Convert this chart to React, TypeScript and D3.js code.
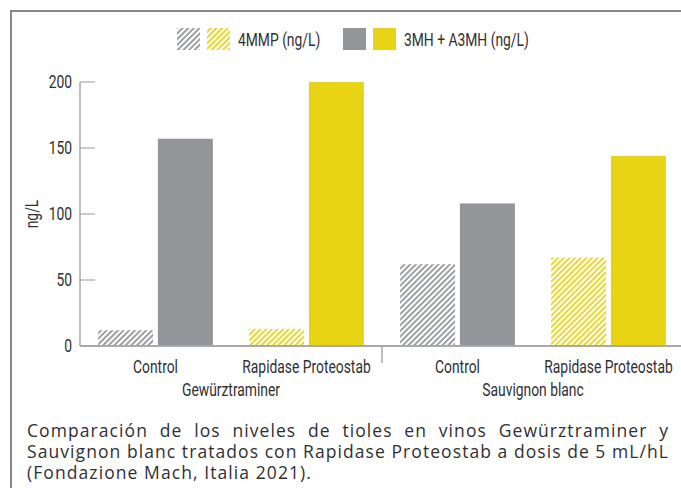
import { useEffect, useRef } from 'react';
import * as d3 from 'd3';

const groups = ['Gewürztraminer', 'Sauvignon blanc'];
const treatments = ['Control', 'Rapidase Proteostab'];
const seriesKeys = ['4MMP', '3MH'];
const seriesLabels = ['4MMP (ng/L)', '3MH + A3MH (ng/L)'];
// one value per group/treatment pair, in order
const values4MMP = [12, 13, 62, 67];
const values3MH = [157, 200, 108, 144];
const yTicks = [0, 50, 100, 150, 200];
const caption = [
  'Comparación de los niveles de tioles en vinos Gewürztraminer y',
  'Sauvignon blanc tratados con Rapidase Proteostab a dosis de 5 mL/hL',
  '(Fondazione Mach, Italia 2021).',
];

const GRAY = '#939598';
const YELLOW = '#e8d415';
const TEXT = '#2f3033';
const AXIS = '#a7a9ac';
const condensed = 'Roboto, sans-serif';
const SQUEEZE = 0.77;

// condensed label: Roboto squeezed horizontally
function CText({ x, y, anchor = 'start', dy, children }: { x: number; y: number; anchor?: string; dy?: string; children: any }) {
  return (
    <text transform={`translate(${x},${y}) scale(${SQUEEZE},1)`} textAnchor={anchor} dy={dy}>{children}</text>
  );
}

export default function App() {
  const captionRef = useRef<SVGGElement>(null);
  const width = 681;
  const height = 488;
  const margin = { left: 80, right: -3, top: 82, bottom: 142 };

  useEffect(() => {
    if (!captionRef.current) return;
    const lines = captionRef.current.querySelectorAll('text');
    const target = 642;
    // widen letters so the second line fills the block, then justify line 1
    const l2 = lines[1] as SVGTextElement;
    l2.setAttribute('letter-spacing', '0');
    const nat2 = l2.getComputedTextLength();
    const ls = (target - nat2) / ((l2.textContent || '').length - 1);
    lines.forEach(el => el.setAttribute('letter-spacing', String(ls)));
    [0, 1].forEach(i => {
      const el = lines[i] as SVGTextElement;
      el.setAttribute('word-spacing', '0');
      const natural = el.getComputedTextLength();
      const spaces = (el.textContent || '').split(' ').length - 1;
      el.setAttribute('word-spacing', String((target - natural) / spaces));
    });
  }, []);

  const cats = groups.flatMap(g => treatments.map(t => `${g}|${t}`));

  const x = d3.scaleBand<string>()
    .domain(cats)
    .range([margin.left, width - margin.right])
    .paddingInner(0.24)
    .paddingOuter(0.12);

  const xSub = d3.scaleBand<string>()
    .domain(seriesKeys)
    .range([0, x.bandwidth()])
    .paddingInner(0.08);

  const y = d3.scaleLinear()
    .domain([0, 200])
    .range([height - margin.bottom, margin.top]);

  const y0 = y(0);

  const bars = cats.flatMap((c, i) => [
    { cat: c, key: '4MMP', value: values4MMP[i], fill: i % 2 === 0 ? 'url(#hatchGray)' : 'url(#hatchYellow)' },
    { cat: c, key: '3MH', value: values3MH[i], fill: i % 2 === 0 ? GRAY : YELLOW },
  ]);

  // separator between the two wine groups
  const sepX = (x(cats[1])! + x.bandwidth() + x(cats[2])!) / 2;

  return (
    <svg width={width} height={height} style={{ position: 'absolute', left: 0, top: 0, background: '#fff' }}>
      <defs>
        <pattern id="hatchGray" width="4" height="4" patternUnits="userSpaceOnUse" patternTransform="rotate(45)">
          <rect width="4" height="4" fill="#fff" />
          <line x1="1" y1="0" x2="1" y2="4" stroke={GRAY} strokeWidth="1.8" />
        </pattern>
        <pattern id="hatchYellow" width="4" height="4" patternUnits="userSpaceOnUse" patternTransform="rotate(45)">
          <rect width="4" height="4" fill="#fff" />
          <line x1="1" y1="0" x2="1" y2="4" stroke={YELLOW} strokeWidth="1.8" />
        </pattern>
      </defs>

      {/* frame */}
      <path d={`M11,${height} V11 H${width}`} fill="none" stroke="#85888b" strokeWidth={2} />

      {/* legend */}
      <g fontFamily={condensed} fontSize={18} fill={TEXT}>
        <rect x={177} y={28} width={23} height={22} fill="url(#hatchGray)" />
        <rect x={207} y={28} width={23} height={22} fill="url(#hatchYellow)" />
        <CText x={238} y={46}>{seriesLabels[0]}</CText>
        <rect x={343} y={28} width={23} height={22} fill={GRAY} />
        <rect x={373} y={28} width={23} height={22} fill={YELLOW} />
        <CText x={404} y={46}>{seriesLabels[1]}</CText>
      </g>

      {/* bars */}
      {bars.map((b, i) => (
        <rect
          key={i}
          x={x(b.cat)! + xSub(b.key)!}
          y={y(b.value)}
          width={xSub.bandwidth()}
          height={y0 - y(b.value)}
          fill={b.fill}
        />
      ))}

      {/* y axis */}
      <g fontFamily={condensed} fontSize={18} fill={TEXT}>
        <line x1={margin.left} x2={margin.left} y1={y(200)} y2={y0} stroke={AXIS} strokeWidth={1.5} />
        {yTicks.map(t => (
          <g key={t}>
            <line x1={margin.left} x2={margin.left + 15} y1={y(t)} y2={y(t)} stroke={AXIS} strokeWidth={1.2} />
            <CText x={margin.left - 8} y={y(t)} dy="0.35em" anchor="end">{t}</CText>
          </g>
        ))}
        <text transform={`translate(38,${y(100)}) rotate(-90) scale(${SQUEEZE},1)`} textAnchor="middle">ng/L</text>
      </g>

      {/* x axis */}
      <g fontFamily={condensed} fontSize={18} fill={TEXT}>
        <line x1={margin.left} x2={width} y1={y0} y2={y0} stroke={AXIS} strokeWidth={2} />
        <line x1={sepX} x2={sepX} y1={y0} y2={y0 + 17} stroke={AXIS} strokeWidth={1.5} />
        {cats.map(c => (
          <CText key={c} x={x(c)! + x.bandwidth() / 2} y={y0 + 27} anchor="middle">{c.split('|')[1]}</CText>
        ))}
        {groups.map((g, gi) => {
          const a = x(cats[gi * 2])! + x.bandwidth() / 2;
          const b = x(cats[gi * 2 + 1])! + x.bandwidth() / 2;
          return <CText key={g} x={(a + b) / 2} y={y0 + 50} anchor="middle">{g}</CText>;
        })}
      </g>

      {/* caption */}
      <g ref={captionRef} fontFamily='"Open Sans", sans-serif' fontSize={17.5} fill={TEXT}>
        {caption.map((line, i) => (
          <text key={i} x={27} y={437 + i * 21}>{line}</text>
        ))}
      </g>
    </svg>
  );
}
